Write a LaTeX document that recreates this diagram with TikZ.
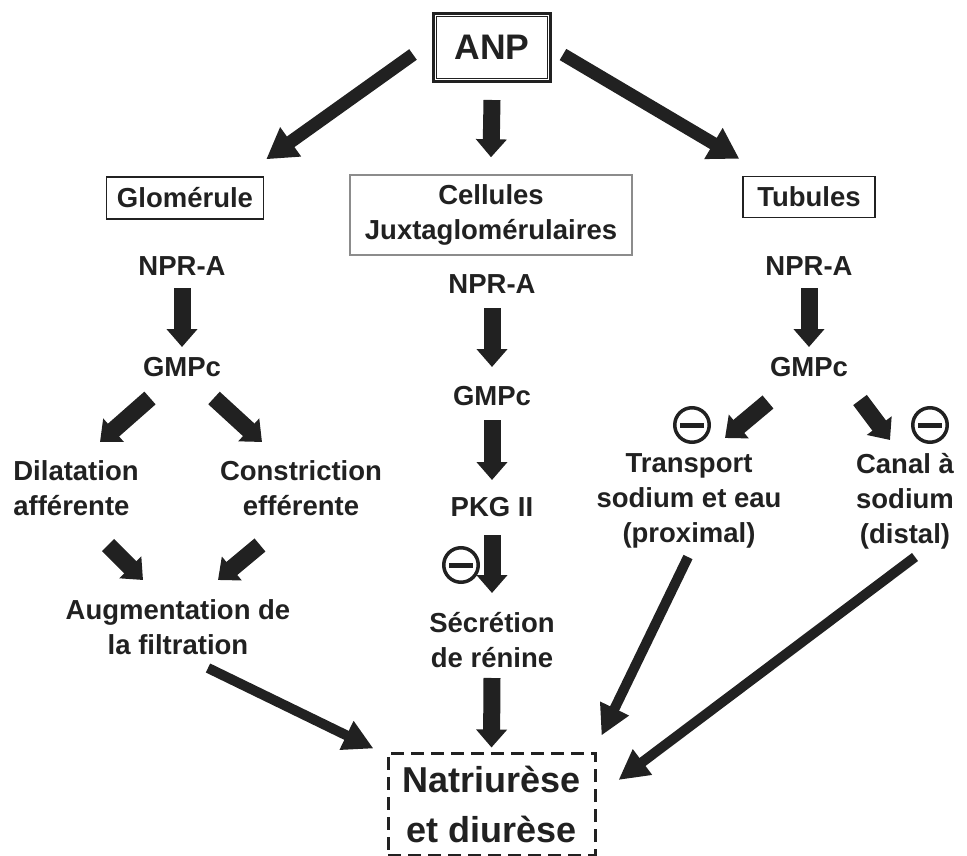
\documentclass[tikz,border=0pt]{standalone}
\usepackage{fontspec}
\setmainfont{Liberation Sans}
\usepackage{tikz}
\usetikzlibrary{arrows.meta,positioning}
\definecolor{ink}{gray}{0.13}
\tikzset{
    lbl/.style={font=\bfseries\fontsize{27.5}{35}\selectfont,text=ink,align=center,inner sep=0pt},
    organ/.style={lbl,draw=ink,line width=1.5pt},
    fatarrow/.style={-{Triangle[width=30pt,length=18pt]},line width=17pt,draw=ink},
    bigarrow/.style={-{Triangle[width=34pt,length=30pt]},line width=13pt,draw=ink},
    longarrow/.style={-{Triangle[width=30pt,length=30pt]},line width=10pt,draw=ink},
    inhib/.style={circle,draw=ink,line width=3.5pt,minimum size=34.5pt,inner sep=0pt,
        path picture={\fill[ink] ([xshift=-12pt,yshift=-2.5pt]path picture bounding box.center)
            rectangle ([xshift=12pt,yshift=2.5pt]path picture bounding box.center);}}
}
\begin{document}
\begin{tikzpicture}[x=1pt,y=-1pt]
    \useasboundingbox (0,0) rectangle (967,856);

    % Hormone
    \node[lbl,draw=ink,line width=3pt,minimum width=117pt,minimum height=68pt,
          font=\bfseries\fontsize{35.5}{40}\selectfont] (anp) at (492,47.5) {ANP};
    \draw[ink,line width=1.2pt] ([xshift=4.5pt,yshift=-4.5pt]anp.north west)
        rectangle ([xshift=-4.5pt,yshift=4.5pt]anp.south east);

    % Target sites
    \node[organ,minimum width=157pt,minimum height=42pt] (glom) at (185,198) {Glomérule};
    \node[organ,draw=black!45,minimum width=282pt,minimum height=80pt] (cell) at (491,215)
        {Cellules\\Juxtaglomérulaires};
    \node[organ,minimum width=132pt,minimum height=41pt] (tub) at (809,197) {Tubules};

    % Glomerulus branch
    \node[lbl] (npra1) at (182,266) {NPR-A};
    \node[lbl] (gmpc1) at (182,367) {GMPc};
    \node[lbl,align=left] (dil) at (76,488) {Dilatation\\afférente};
    \node[lbl] (constr) at (301,488) {Constriction\\efférente};
    \node[lbl] (aug) at (178,627) {Augmentation de\\la filtration};

    % Juxtaglomerular branch
    \node[lbl] (npra2) at (492,284) {NPR-A};
    \node[lbl] (gmpc2) at (492,396) {GMPc};
    \node[lbl] (pkg) at (492,507) {PKG II};
    \node[lbl] (secr) at (492,640) {Sécrétion\\de rénine};
    \node[inhib] (inh1) at (461,565) {};

    % Tubule branch
    \node[lbl] (npra3) at (809,266) {NPR-A};
    \node[lbl] (gmpc3) at (809,367) {GMPc};
    \node[lbl] (transp) at (689,501) {Transport\\sodium et eau\\(proximal)};
    \node[lbl] (canal) at (905,501) {Canal à\\sodium\\(distal)};
    \node[inhib] (inh2) at (692,425) {};
    \node[inhib] (inh3) at (930,425) {};

    % Outcome
    \node[lbl,draw=ink,line width=3pt,dash pattern=on 13pt off 7pt,
          minimum width=207pt,minimum height=102pt,font=\bfseries\fontsize{36}{50}\selectfont]
          (natr) at (491.5,804) {Natriurèse\\et diurèse};

    % From ANP
    \draw[bigarrow] ([xshift=-19,yshift=-7]anp.west) -- ([xshift=2,yshift=17]glom.north east);
    \draw[fatarrow] ([yshift=-17]anp.south) -- ([yshift=17]cell.north);
    \draw[bigarrow] ([xshift=11,yshift=-7]anp.east) -- ([xshift=-3,yshift=17]tub.north west);

    % Glomerulus
    \draw[fatarrow] ([yshift=-22]npra1.center) -- ([yshift=20]gmpc1.center);
    \draw[fatarrow] ([xshift=-32,yshift=-31]gmpc1.center) -- ([xshift=24,yshift=46]dil.center);
    \draw[fatarrow] ([xshift=32,yshift=-31]gmpc1.center) -- ([xshift=-39,yshift=46]constr.center);
    \draw[fatarrow] ([xshift=32,yshift=-57]dil.center) -- ([xshift=-35,yshift=47]aug.center);
    \draw[fatarrow] ([xshift=-41,yshift=-57]constr.center) -- ([xshift=40,yshift=47]aug.center);
    \draw[longarrow] ([xshift=30,yshift=-41]aug.center) -- ([xshift=-13,yshift=3]natr.north west);

    % Juxtaglomerular cells
    \draw[fatarrow] ([yshift=-24]npra2.center) -- ([yshift=29]gmpc2.center);
    \draw[fatarrow] ([yshift=-24]gmpc2.center) -- ([yshift=27]pkg.center);
    \draw[fatarrow] ([yshift=-28]pkg.center) -- ([yshift=47]secr.center);
    \draw[fatarrow] ([yshift=-38]secr.center) -- ([yshift=4]natr.north);

    % Tubules
    \draw[fatarrow] ([yshift=-22]npra3.center) -- ([yshift=20]gmpc3.center);
    \draw[fatarrow] ([xshift=-41,yshift=-35]gmpc3.center) -- ([xshift=36,yshift=63]transp.center);
    \draw[fatarrow] ([xshift=51,yshift=-33]gmpc3.center) -- ([xshift=-15,yshift=61]canal.center);
    \draw[longarrow] ([xshift=-1,yshift=-56]transp.center) -- ([xshift=5,yshift=16]natr.north east);
    \draw[longarrow] ([xshift=10,yshift=-56]canal.center) -- ([xshift=22,yshift=24]natr.east);
\end{tikzpicture}
\end{document}
